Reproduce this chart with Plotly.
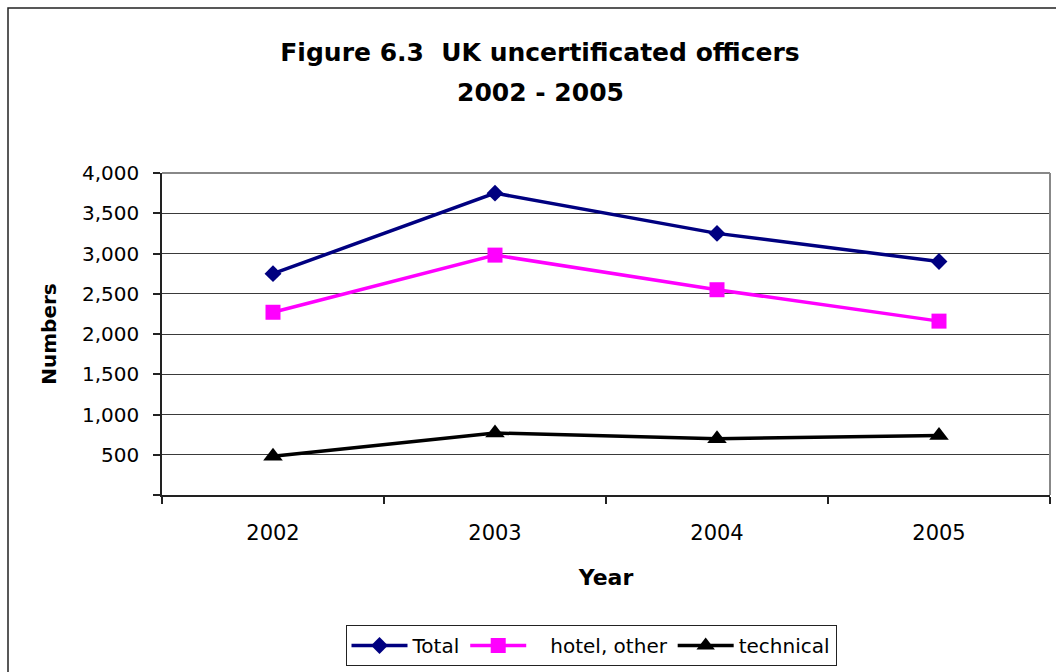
import plotly.graph_objects as go

# Officer counts by year
years = ["2002", "2003", "2004", "2005"]
total = [2750, 3750, 3250, 2900]
hotel_other = [2270, 2980, 2550, 2160]
technical = [480, 770, 700, 740]

y_ticks = [0, 500, 1000, 1500, 2000, 2500, 3000, 3500, 4000]
y_tick_labels = ["", "500", "1,000", "1,500", "2,000", "2,500", "3,000", "3,500", "4,000"]

title_line1 = "Figure 6.3  UK uncertificated officers"
title_line2 = "2002 - 2005"

FONT = "DejaVu Sans"

fig = go.Figure()
fig.add_trace(go.Scatter(
    x=years, y=total, name="Total", mode="lines+markers",
    line=dict(color="#000080", width=3.5),
    marker=dict(symbol="diamond", size=13, color="#000080"),
))
fig.add_trace(go.Scatter(
    x=years, y=hotel_other, name="\u00a0\u00a0\u00a0hotel, other", mode="lines+markers",
    line=dict(color="#FF00FF", width=3.5),
    marker=dict(symbol="square", size=15, color="#FF00FF"),
))
fig.add_trace(go.Scatter(
    x=years, y=technical, name="technical", mode="lines+markers",
    line=dict(color="#000000", width=3.5),
    marker=dict(symbol="triangle-up", size=17, color="#000000"),
))

fig.update_layout(
    width=1056, height=672,
    margin=dict(l=162, r=6, t=173, b=177),
    paper_bgcolor="white", plot_bgcolor="white",
    font=dict(family=FONT, size=20, color="black"),
    title=dict(
        text="<b>" + title_line1 + "</b>",
        font=dict(family=FONT, size=25, color="black"),
        x=540 / 1056, xanchor="center", xref="container",
        y=1 - 52 / 672, yanchor="middle", yref="container",
    ),
    xaxis=dict(
        type="category", range=[-0.5, 3.5],
        showline=True, linecolor="#222", linewidth=1.5,
        ticks="outside", tickson="boundaries", ticklen=7, tickcolor="#222", tickwidth=1.5,
        showgrid=False, ticklabelstandoff=18, tickfont=dict(size=21),
        title=dict(text="<b>Year</b>", font=dict(family=FONT, size=22), standoff=26),
    ),
    yaxis=dict(
        range=[0, 4000], tickvals=y_ticks, ticktext=y_tick_labels,
        showline=True, linecolor="#222", linewidth=1.5,
        ticks="outside", ticklen=7, tickcolor="#222", tickwidth=1.5,
        showgrid=True, gridcolor="#3a3a3a", gridwidth=1,
        zeroline=False, ticklabelstandoff=10,
        title=dict(text="<b>Numbers</b>", font=dict(family=FONT, size=20), standoff=20),
    ),
    legend=dict(
        orientation="h", x=(591 - 162) / 888, xanchor="center",
        y=(495 - 625) / 322, yanchor="top",
        bordercolor="#222", borderwidth=1, bgcolor="white",
        font=dict(family=FONT, size=20), itemwidth=56,
    ),
    showlegend=True,
)

# Second title line
fig.add_annotation(
    text="<b>" + title_line2 + "</b>", xref="paper", yref="paper",
    x=(540 - 162) / 888, y=(495 - 93) / 322, xanchor="center", yanchor="middle",
    showarrow=False, font=dict(family=FONT, size=25, color="black"),
)

# Plot-area border on the top and right sides
fig.add_shape(type="line", xref="paper", yref="paper", x0=0, x1=1, y0=1, y1=1,
              line=dict(color="#888", width=2))
fig.add_shape(type="line", xref="paper", yref="paper", x0=1, x1=1, y0=0, y1=1,
              line=dict(color="#888", width=2))
# Outer chart frame
fig.add_shape(type="rect", xref="paper", yref="paper",
              x0=(8 - 162) / 888, x1=(1070 - 162) / 888,
              y0=(495 - 690) / 322, y1=(495 - 8) / 322,
              line=dict(color="#222", width=1.5), layer="below")

fig.write_html("out.html")
